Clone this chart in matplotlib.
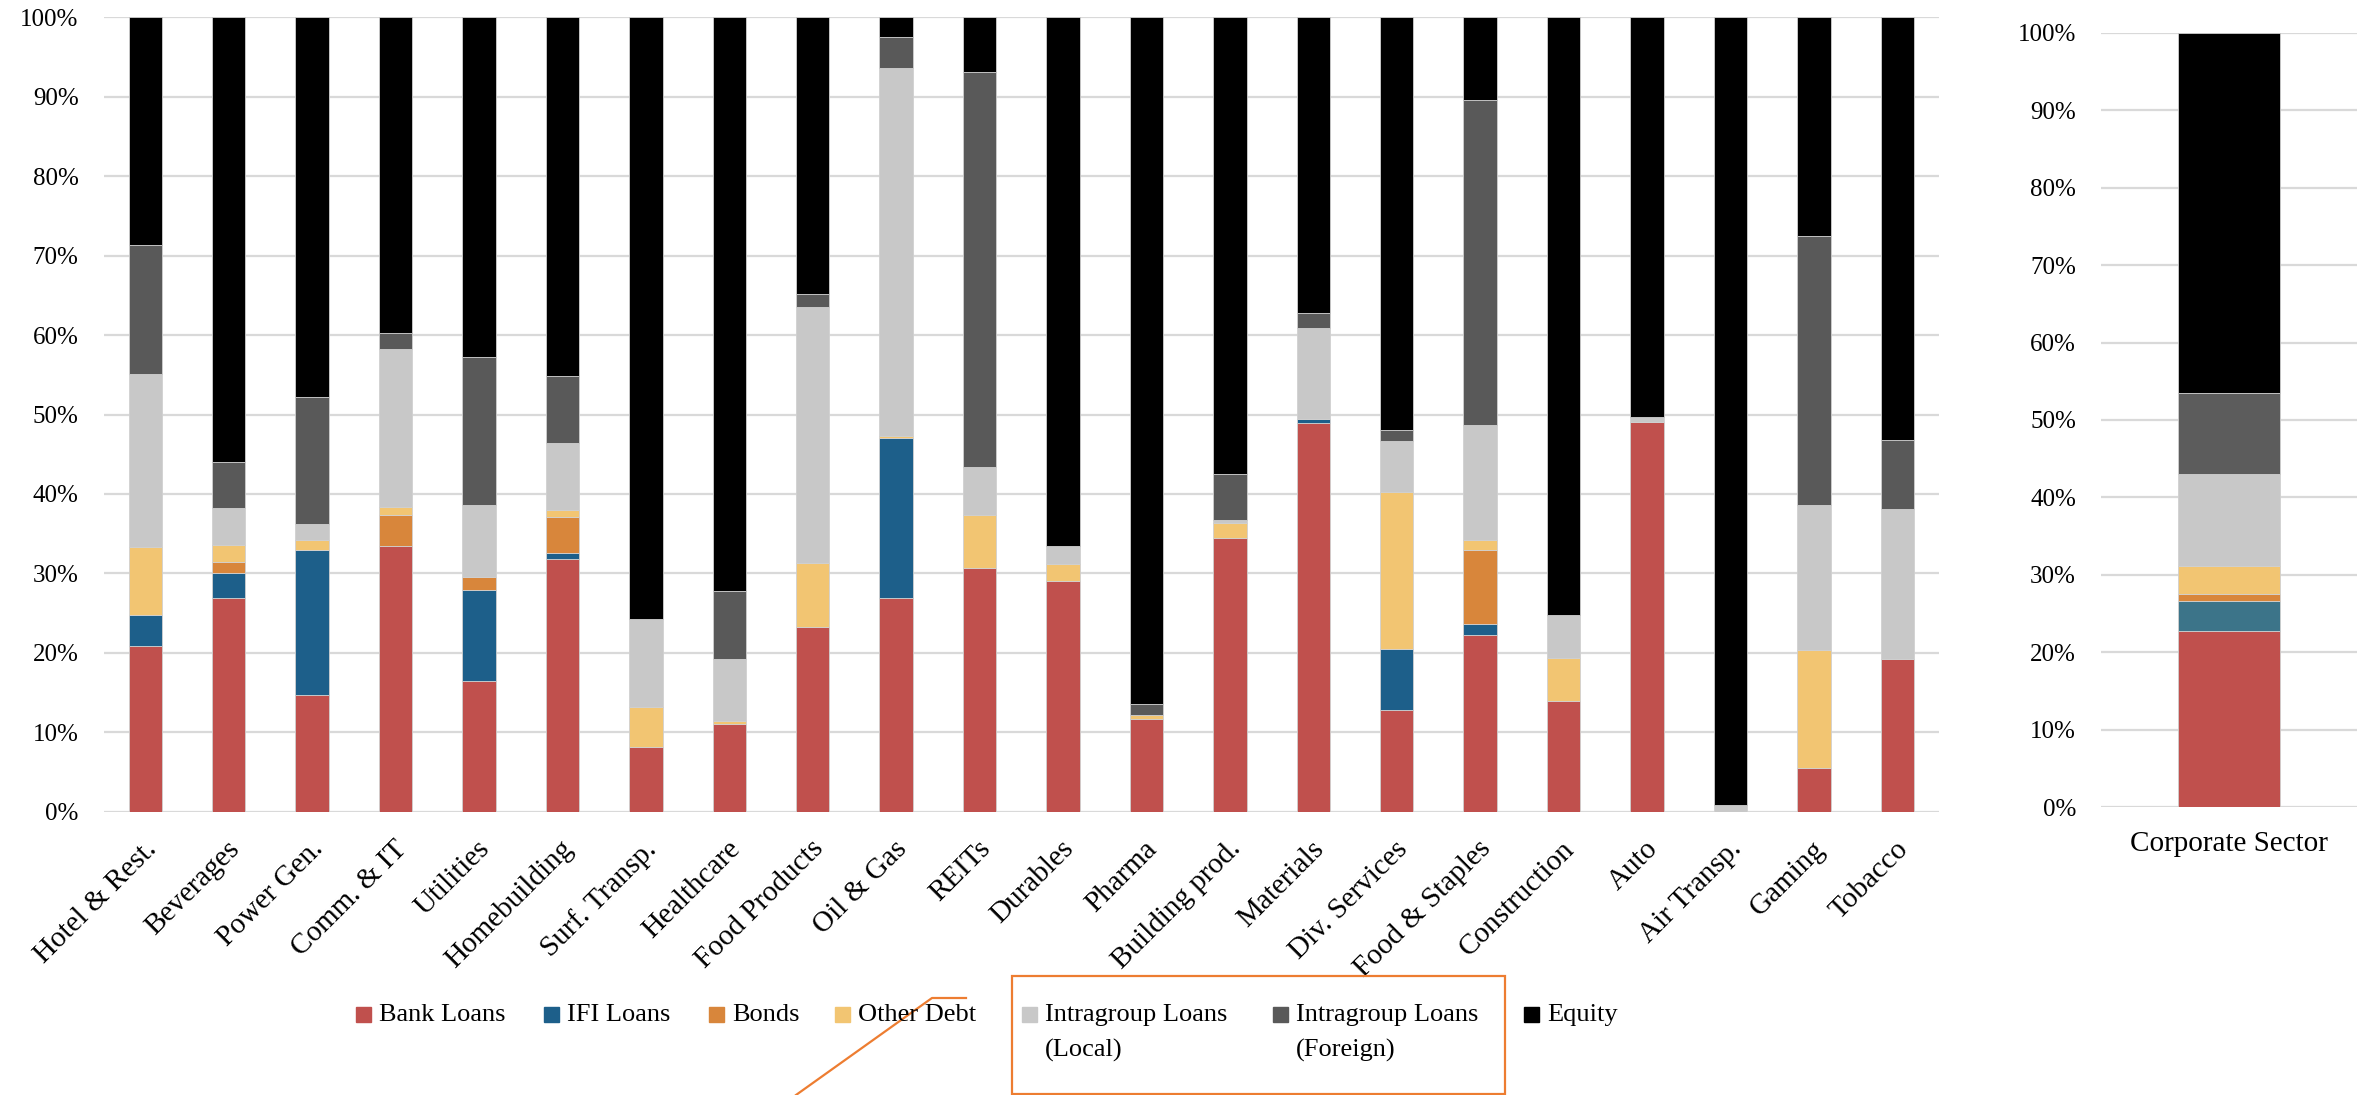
import numpy as np
from matplotlib import pyplot as plt
from matplotlib.patches import Rectangle
from matplotlib.lines import Line2D
from matplotlib.ticker import FuncFormatter
import matplotlib.transforms as mtransforms

plt.rcParams['font.family'] = ['Liberation Serif', 'DejaVu Serif']

# funding structure by sector, % of total
categories = ['Hotel & Rest.', 'Beverages', 'Power Gen.', 'Comm. & IT', 'Utilities',
              'Homebuilding', 'Surf. Transp.', 'Healthcare', 'Food Products', 'Oil & Gas',
              'REITs', 'Durables', 'Pharma', 'Building prod.', 'Materials', 'Div. Services',
              'Food & Staples', 'Construction', 'Auto', 'Air Transp.', 'Gaming', 'Tobacco']
bank = [20.9, 26.9, 14.7, 33.4, 16.4, 31.8, 8.2, 11.0, 23.2, 26.9, 30.7,
        29.0, 11.7, 34.5, 48.9, 12.8, 22.2, 13.9, 49.1, 0.0, 5.5, 19.2]
ifi = [3.9, 3.2, 18.2, 0.0, 11.5, 0.8, 0.0, 0.0, 0.0, 20.2, 0.0,
       0.0, 0.0, 0.0, 0.5, 7.7, 1.4, 0.0, 0.0, 0.0, 0.0, 0.0]
bonds = [0.0, 1.3, 0.0, 3.9, 1.6, 4.5, 0.0, 0.0, 0.0, 0.0, 0.0,
         0.0, 0.0, 0.0, 0.0, 0.0, 9.3, 0.0, 0.0, 0.0, 0.0, 0.0]
other = [8.5, 2.2, 1.3, 1.0, 0.0, 0.9, 5.0, 0.4, 8.1, 0.2, 6.6,
         2.2, 0.5, 1.8, 0.0, 19.7, 1.3, 5.5, 0.0, 0.0, 14.9, 0.0]
local = [21.8, 4.6, 2.0, 19.9, 9.1, 8.4, 11.1, 7.8, 32.2, 46.3, 6.1,
         2.3, 0.0, 0.4, 11.5, 6.5, 14.5, 5.3, 0.6, 0.8, 18.2, 18.9]
foreign = [16.2, 5.8, 16.0, 2.1, 18.7, 8.4, 0.0, 8.6, 1.7, 3.9, 49.7,
           0.0, 1.4, 5.8, 1.9, 1.3, 40.9, 0.0, 0.0, 0.0, 33.9, 8.7]
equity = [28.7, 56.0, 47.8, 39.7, 42.7, 45.2, 75.7, 72.2, 34.8, 2.5, 6.9,
          66.5, 86.4, 57.5, 37.2, 52.0, 10.4, 75.3, 50.3, 99.2, 27.5, 53.2]

# whole corporate sector
corp_label = ['Corporate Sector']
corp = [22.7, 3.9, 0.9, 3.7, 11.8, 10.5, 46.5]

series_names = ['Bank Loans', 'IFI Loans', 'Bonds', 'Other Debt',
                'Intragroup Loans\n(Local)', 'Intragroup Loans\n(Foreign)', 'Equity']
colors = ['#C0504D', '#1D5F8A', '#D8863B', '#F2C572', '#C8C8C8', '#595959', '#000000']
corp_colors = ['#C0504D', '#3C7489', '#D8863B', '#F2C572', '#C8C8C8', '#5C5C5C', '#000000']

W, H = 2368, 1095
fig = plt.figure(figsize=(W / 100, H / 100), dpi=100)
ax = fig.add_axes([103.6 / W, 1 - 811.7 / H, 1835.4 / W, 794.4 / H])
ax2 = fig.add_axes([2101 / W, 1 - 807.3 / H, 256 / W, 774.6 / H])

pct = FuncFormatter(lambda v, p: '%d%%' % v)


def style(a):
    a.set_ylim(0, 100)
    a.set_yticks(np.arange(0, 101, 10))
    a.yaxis.set_major_formatter(pct)
    a.grid(axis='y', color='#D9D9D9', linewidth=1.6)
    a.set_axisbelow(True)
    for s in a.spines.values():
        s.set_visible(False)
    a.tick_params(axis='both', length=0, labelsize=18)
    a.tick_params(axis='y', pad=18)


# left panel: stacked bars per sector
x = np.arange(len(categories))
data = [bank, ifi, bonds, other, local, foreign, equity]
bottom = np.zeros(len(categories))
for vals, c in zip(data, colors):
    ax.bar(x, vals, 0.40, bottom=bottom, color=c, edgecolor='#D0D0D0', linewidth=0.6)
    bottom += np.array(vals)
style(ax)
ax.set_xlim(-0.5, len(categories) - 0.5)
ax.set_xticks(x)
ax.set_xticklabels(categories, rotation=45, ha='right', va='center',
                   rotation_mode='anchor', fontsize=21)
ax.tick_params(axis='x', pad=24)
shift = mtransforms.ScaledTranslation(0.07, 0, fig.dpi_scale_trans)
for lab in ax.get_xticklabels():
    lab.set_transform(lab.get_transform() + shift)

# right panel: corporate sector total
b = 0
for v, c in zip(corp, corp_colors):
    ax2.bar([0], [v], 0.402, bottom=b, color=c, edgecolor='#D0D0D0', linewidth=0.6)
    b += v
style(ax2)
ax2.set_xlim(-0.5, 0.5)
ax2.set_xticks([0])
ax2.set_xticklabels(corp_label, fontsize=21)
ax2.tick_params(axis='x', pad=17)

# legend along the bottom
marker_x = [356, 544, 709, 835, 1022, 1273, 1524]
for mx, name, c in zip(marker_x, series_names, colors):
    fig.add_artist(Rectangle((mx / W, 1 - 1022 / H), 15 / W, 15 / H,
                             transform=fig.transFigure, color=c))
    for i, line in enumerate(name.split('\n')):
        fig.text((mx + 23) / W, 1 - (1021 + 36 * i) / H, line, fontsize=19,
                 ha='left', va='baseline')

# highlight around the intragroup items
fig.add_artist(Rectangle((1012 / W, 1 - 1094 / H), 493 / W, 118 / H,
                         transform=fig.transFigure, fill=False,
                         edgecolor='#ED7D31', linewidth=1.6))
fig.add_artist(Line2D([796 / W, 932 / W, 966 / W], [1 - 1095 / H, 1 - 998 / H, 1 - 998 / H],
                      transform=fig.transFigure, color='#ED7D31', linewidth=1.6))

plt.savefig('out.png', dpi=100)
